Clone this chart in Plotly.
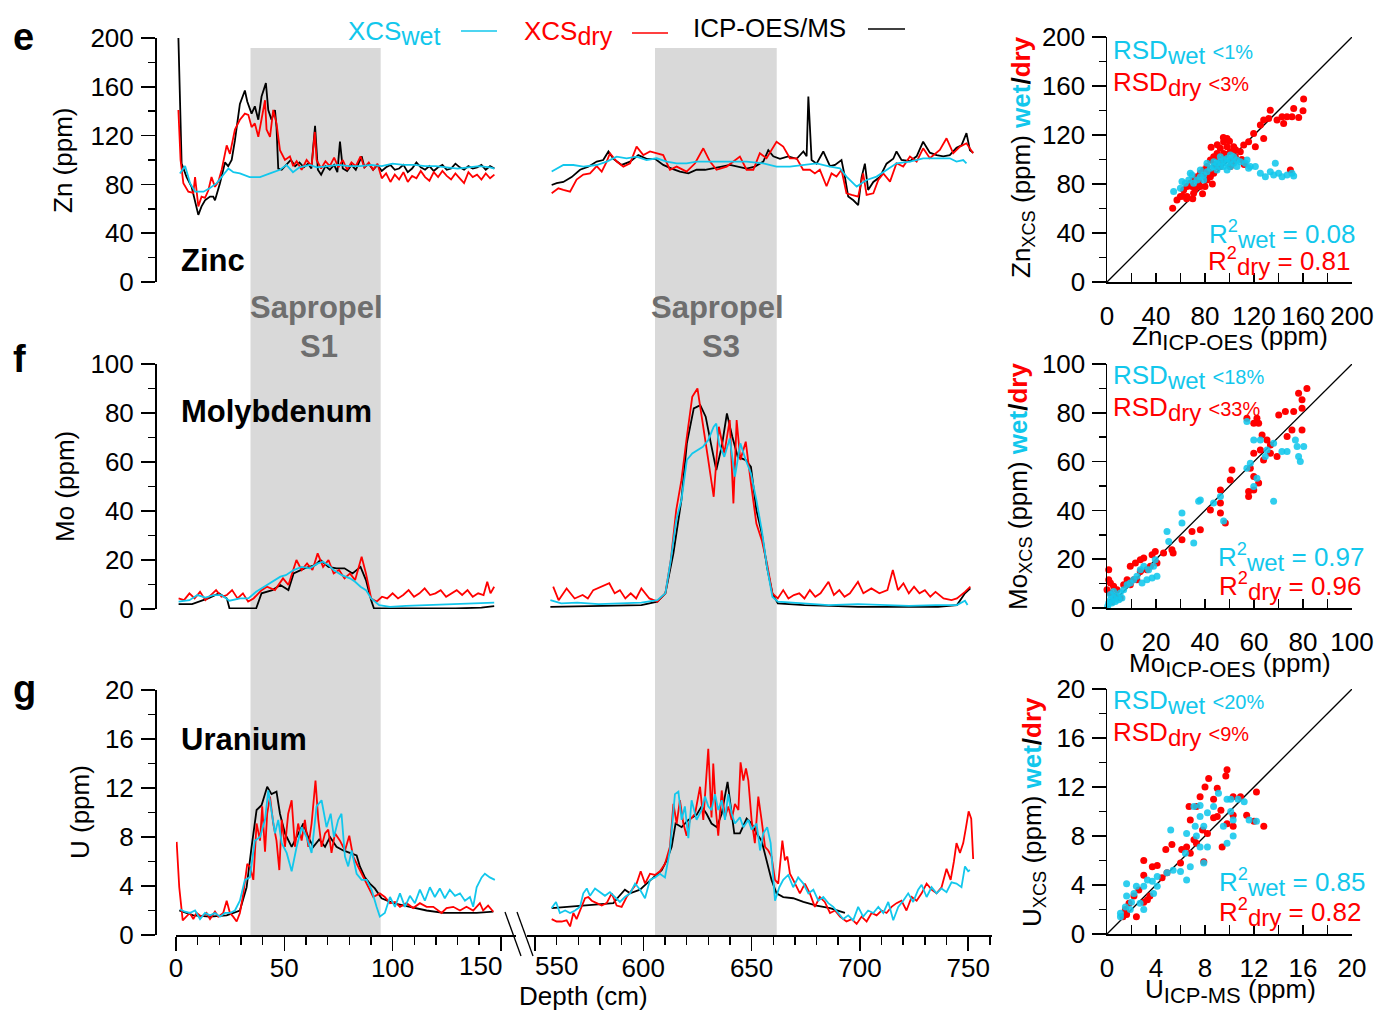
import plotly.graph_objects as go

# ======================= DATA =======================
# Depth in cm; concentrations in ppm.  Values < 300 cm belong to the upper core
# segment (0-150 cm), values > 300 cm to the lower one (550-750 cm).

# ---------- Zinc ----------
zn_icp_depth = [1.1, 2.6, 4.9, 7.2, 10.3, 11.8, 13.4, 15.7, 17.2, 18.0, 20.3, 22.6, 24.1, 25.7, 27.2,
                29.5, 31.8, 32.9, 34.9, 36.4, 38.0, 39.5, 41.5, 42.6, 44.1, 45.7, 46.4, 47.2, 48.8, 51,
                53, 55, 57, 59, 61, 62.5, 64.2, 65.5, 67, 69, 71, 73, 74.5, 75.7, 77, 79, 81, 83, 85.7, 87,
                89, 91, 93, 95, 97, 99, 101, 103, 105, 107, 109, 111, 113, 115, 117, 119, 121, 123, 125, 127,
                129, 131, 133, 135, 137, 139, 141, 143, 145, 147,
                557.7, 560.0, 563.1, 566.9, 570.8, 574.6, 578.5, 581.5, 583.9, 586.2, 590.0, 593.9, 597.7,
                601.5, 605.4, 609.2, 613.1, 616.9, 620.8, 624.6, 628.5, 632.3, 636.2, 640.0, 643.9, 647.7,
                651.5, 655.4, 657.7, 660.0, 663.1, 666.9, 670.8, 673.9, 675.4, 676.2, 677.7, 680.0, 683.1,
                686.2, 688.5, 691.5, 693.1, 694.6, 697.0, 699.2, 700.8, 702.3, 703.8, 706.2, 709.2, 712.3,
                715.4, 716.9, 719.2, 723.1, 726.2, 729.2, 732.3, 735.4, 738.5, 741.5, 744.6, 746.9, 749.2,
                750.8, 752.3]
zn_icp = [201, 97, 86, 78, 55, 62, 67, 70, 70, 67, 81, 98, 95, 100, 116,
          146, 157, 148, 138, 144, 133, 152, 163, 141, 133, 141, 127, 93, 92, 96,
          100, 95, 98, 94, 97, 93, 128, 92, 88, 95, 92, 96, 90, 115, 93, 91, 96, 92, 103, 94,
          97, 92, 96, 91, 94, 96, 92, 93, 96, 90, 93, 98, 94, 92, 95, 91, 94, 96, 92, 93,
          97, 94, 92, 95, 93, 94, 96, 92, 95, 93,
          79.5, 81, 82, 86, 92, 94.5, 98.7, 100, 107, 101, 96, 98.7, 104,
          101, 101, 96, 93, 90.5, 89, 92, 92, 93, 94.6, 96, 94.6, 93,
          94.6, 98.7, 108, 103, 101, 103, 101, 107, 103, 152, 100, 97, 107,
          95, 96, 100, 86, 70, 67, 63, 86, 97, 75.5, 82, 86, 97,
          101, 107, 100, 99, 103, 115, 106, 104, 103, 104, 110, 112, 122,
          108, 106]
zn_dry_depth = [1.1, 2.1, 3.4, 5.7, 8.0, 8.8, 10.3, 11.8, 13.4, 14.9, 16.4, 18.0, 19.5, 21.1, 23.4,
                24.9, 27.2, 29.5, 31.8, 33.4, 34.9, 36.4, 38.0, 39.5, 41.1, 41.8, 43.4, 44.9, 46.4, 48.0,
                50.3, 52.6, 54.1, 55.7, 58.0, 60.3, 62.6, 64.1, 64.9, 67, 69, 71, 73, 75, 77, 79, 81, 83,
                85.2, 87, 89, 91, 93, 95, 97, 99, 101, 103, 105, 107, 109, 111, 113, 115, 117, 119, 121, 123,
                125, 127, 129, 131, 133, 135, 137, 139, 141, 143, 145, 147,
                557.7, 560.8, 563.1, 566.2, 569.2, 572.3, 575.4, 578.5, 580.8, 583.1, 584.6, 587.7, 590.8,
                593.9, 596.9, 600.0, 603.1, 606.2, 609.2, 612.3, 615.4, 620.0, 623.9, 627.7, 630.8, 633.8,
                638.5, 644.6, 647.7, 650.8, 653.8, 656.9, 661.5, 664.6, 667.7, 670.8, 673.8, 676.9, 679.2,
                681.5, 684.6, 686.9, 689.2, 691.5, 693.8, 696.2, 699.2, 701.5, 703.1, 706.2, 708.5, 710.8,
                713.9, 716.9, 720.0, 723.1, 726.2, 729.2, 732.3, 736.9, 740.0, 743.1, 746.2, 749.2, 752.3]
zn_dry = [141, 100, 81, 74, 73, 86, 62, 70, 69, 75, 86, 78, 82, 92, 112,
          105, 125, 133, 138, 137, 127, 130, 119, 133, 149, 125, 119, 141, 130, 108,
          100, 103, 95, 99, 92, 100, 95, 123, 100, 93, 99, 95, 102, 94, 100, 92, 98, 95,
          103, 94, 98, 92, 97, 85, 89, 82, 88, 84, 90, 82, 87, 85, 91, 86, 83, 90, 86, 91,
          87, 84, 89, 85, 81, 90, 86, 88, 84, 89, 85, 88,
          72.7, 76.8, 75.5, 74, 84, 88, 89, 95, 90.5, 98.7, 105.5, 98.7, 94.6,
          97.3, 111, 104, 107, 105.5, 104, 92, 94.6, 90.5, 97.3, 109.6, 98.7, 92,
          94.6, 102.8, 92, 92, 105.5, 101.4, 115, 111, 101.4, 101.4, 92, 92, 89,
          92, 78.5, 89, 86.4, 92, 72.7, 71.4, 70, 89, 71.4, 72.7, 83.6, 89,
          82.3, 97.3, 94.6, 102.8, 98.7, 109.6, 101.4, 108.2, 117.8, 105.5, 111, 113.7, 105.5]
zn_wet_depth = [1.8, 4.2, 6.5, 8.8, 12.7, 15.7, 18.8, 21.1, 24.2, 26.5, 29.5, 34, 38.8, 43.4, 48,
                51, 54, 57, 61.8, 65, 70, 75, 80, 85, 90, 95, 100, 105, 110, 115, 120, 125, 130, 135,
                140, 145, 147,
                557.7, 563.1, 567.7, 572.3, 578.5, 583.1, 587.7, 592.3, 596.9, 601.5, 606.2, 610.8, 615.4,
                620, 624.6, 632.3, 640, 647.7, 655.4, 661.5, 667.7, 673.8, 680, 686.2, 690.8, 693.8, 698.5,
                703.1, 707.7, 712.3, 716.9, 723.1, 729.2, 735.4, 741.5, 744.6, 747.7, 749.2]
zn_wet = [89, 95, 81, 74, 74, 77, 81, 86, 93, 90, 89, 86, 86, 89, 92,
          96, 90, 94, 96, 94, 95, 96, 95, 95, 96, 95, 97, 96, 96, 95, 95, 94, 93, 94,
          95, 94, 93,
          90.5, 95.9, 95.9, 94.6, 95.9, 98.7, 102.8, 101.4, 102.8, 100, 101.4, 98.7, 97.3,
          97.3, 98.7, 98.7, 98.7, 98.7, 97.3, 94.6, 94.6, 95.9, 97.3, 94.6, 93.2, 86.4, 78.2,
          83.6, 86.4, 91.9, 97.3, 98.7, 101.4, 101.4, 101.4, 98.7, 100, 97.3]

# ---------- Molybdenum ----------
mo_icp_depth = [1.2, 7.4, 14.8, 19.8, 23.5, 24.7, 29.6, 37.0, 39.5, 44.5, 48.2, 51.9, 54.3, 59.3, 64.2,
                66.7, 70.4, 74.1, 77.8, 81.5, 85.2, 87.7, 90.1, 91.4, 104, 116, 129, 141, 146.9,
                557.1, 574.4, 586.8, 599.1, 606.5, 610.2, 613.9, 617.6, 620.1, 623.3, 626.3, 628.8, 631.2,
                633.7, 636.2, 638.6, 641.1, 643.6, 647.3, 649.7, 652.2, 654.7, 657.1, 659.6, 662.1, 674.4,
                686.8, 699.1, 711.5, 723.8, 736.1, 744.8, 748.5, 751.0]
mo_icp = [2.0, 2.0, 4.3, 6.4, 4.3, 0.2, 0.2, 0.2, 6.4, 7.7, 9.8, 7.7, 14.5, 16.6, 17.9,
          20, 17.2, 16.6, 16.6, 14.5, 17.2, 11.8, 3.6, 0.2, 0.2, 0.2, 0.2, 0.6, 1.2,
          0.9, 1.2, 1.2, 1.6, 3.0, 6.4, 22.7, 44.5, 67.6, 81.9, 83.2, 78.5, 67.6,
          56.7, 66.2, 79.8, 70.3, 62.1, 60.8, 58.0, 40.4, 30.9, 17.2, 6.4, 2.3, 1.6,
          1.3, 0.9, 0.9, 0.9, 0.9, 1.6, 6.4, 8.4]
mo_dry_depth = [1.2, 3.7, 6.2, 8.6, 11.1, 13.6, 16.1, 18.5, 21.0, 23.5, 25.9, 28.4, 30.9, 33.3, 35.8,
                39.5, 42.0, 45.7, 49.4, 51.9, 55.6, 58.0, 60.5, 63.0, 65.4, 67.9, 70.4, 72.8, 75.3, 77.8,
                80.3, 82.7, 85.7, 87.7, 90.1, 92.6, 95.1, 97.5, 100.0, 102.5, 104.9, 107.4, 109.9, 112.4,
                114.8, 117.3, 119.8, 122.2, 124.7, 127.2, 129.6, 132.1, 134.6, 137.0, 139.5, 142.0, 143.7,
                145.2, 146.9,
                558.4, 560.9, 564.6, 568.3, 572.0, 574.4, 576.9, 580.6, 584.3, 586.8, 589.2, 591.7, 594.2,
                596.7, 599.1, 602.8, 606.5, 610.2, 612.7, 615.2, 617.6, 620.1, 622.6, 625.0, 627.5, 630.0,
                632.5, 634.9, 637.4, 639.9, 641.6, 643.1, 644.8, 647.3, 649.7, 652.2, 654.7, 657.1, 659.6,
                662.1, 664.6, 667.0, 669.5, 672.0, 674.4, 676.9, 679.4, 681.8, 685.5, 688.0, 690.5, 692.9,
                695.4, 699.1, 701.6, 705.3, 709.0, 712.7, 715.2, 717.6, 720.1, 722.6, 725.0, 727.5, 730.0,
                732.5, 734.9, 738.6, 742.3, 744.8, 748.5, 751.0]
mo_dry = [4.3, 3.6, 6.4, 4.3, 7.0, 3.6, 5.7, 7.7, 5.0, 5.7, 7.7, 4.3, 6.4, 3.0, 4.3,
          7.7, 9.1, 7.7, 12.5, 9.8, 20.0, 15.9, 18.6, 15.9, 22.7, 17.2, 20.0, 14.5, 15.9, 12.5,
          14.5, 11.8, 21.3, 14.5, 4.3, 3.0, 5.0, 4.3, 6.4, 4.3, 5.7, 7.7, 5.0, 6.4,
          8.4, 5.7, 6.4, 7.7, 5.0, 6.4, 7.7, 5.7, 7.7, 5.0, 6.4, 5.7, 11.1,
          6.4, 9.1,
          9.1, 3.6, 8.4, 4.3, 5.7, 4.3, 7.7, 9.1, 10.5, 6.4, 7.7, 4.3, 6.4,
          4.3, 8.4, 4.3, 3.0, 6.4, 20.0, 40.4, 52.6, 70.3, 86.6, 90.0, 74.4, 60.8,
          45.8, 74.4, 63.5, 77.1, 43.1, 77.1, 60.8, 68.3, 51.3, 34.9, 28.1, 18.6, 6.4,
          4.3, 7.7, 4.3, 5.7, 6.4, 4.3, 7.7, 5.0, 6.4, 11.1, 5.7, 7.7, 5.0,
          6.4, 11.1, 6.4, 8.4, 6.4, 7.7, 15.9, 7.7, 10.5, 6.4, 9.1, 6.4, 7.7,
          5.0, 7.0, 4.3, 3.6, 4.3, 7.0, 9.1]
mo_wet_depth = [1.2, 6.2, 9.9, 13.6, 17.3, 21.0, 24.7, 29.6, 33.4, 37.0, 40.7, 44.5, 48.2, 50.7, 54.3,
                58.0, 61.7, 65.5, 67.9, 70.4, 72.8, 76.5, 80.3, 82.7, 85.2, 87.7, 90.1, 93.8, 98.8, 106.2,
                116.0, 128.4, 140.7, 146.9,
                557.1, 562.1, 569.5, 579.4, 589.2, 599.1, 606.5, 610.2, 612.7, 615.2, 617.6, 620.1, 622.6,
                625.0, 627.5, 630.0, 632.5, 633.7, 634.9, 637.4, 639.9, 642.3, 644.8, 647.3, 649.7, 652.2,
                654.7, 657.1, 659.6, 662.1, 674.4, 685.5, 699.1, 712.7, 722.6, 734.9, 744.8, 748.5, 749.7]
mo_wet = [3.0, 3.6, 5.7, 4.7, 5.7, 5.7, 3.4, 4.3, 4.3, 7.0, 9.1, 11.1, 13.2, 13.8, 15.9,
          17.2, 16.6, 18.6, 19.3, 17.9, 15.9, 13.8, 12.5, 11.1, 9.1, 7.7, 4.3, 1.6, 0.9, 1.3,
          1.6, 2.0, 2.3, 2.6,
          3.6, 2.3, 2.6, 2.0, 2.3, 2.6, 3.6, 6.4, 20.0, 36.3, 44.5, 60.8, 63.5,
          64.9, 66.2, 69.0, 74.4, 75.7, 67.6, 62.1, 69.6, 54.0, 67.6, 60.8, 55.3, 44.5,
          32.2, 17.2, 5.0, 3.0, 2.3, 1.6, 2.0, 1.6, 1.3, 1.6, 1.6, 3.4, 1.6]

# ---------- Uranium ----------
u_icp_depth = [1.5, 8.0, 15.7, 23.4, 29.5, 32.6, 34.9, 37.2, 39.5, 42.1, 44.1, 46.4, 48.0, 50.3, 53.4,
               55.7, 58.8, 61.0, 63.4, 66.1, 68.8, 71.1, 74.1, 77.2, 80.3, 83.4, 84.9, 87.2, 89.5, 91.8,
               94.9, 100.3, 108.0, 115.7, 123.4, 131.1, 138.8, 146.5,
               557.7, 570.8, 586.2, 588.5, 591.5, 593.9, 598.5, 601.5, 604.6, 608.5, 610.8, 613.1, 614.9,
               617.7, 620.8, 624.6, 626.9, 629.2, 631.5, 633.9, 636.2, 637.7, 638.9, 640.0, 642.0, 644.6,
               647.7, 650.0, 652.3, 654.6, 656.9, 659.2, 661.5, 664.6, 669.2, 673.9, 680.0, 686.2, 693.1]
u_icp = [2.0, 1.6, 1.5, 1.6, 2.0, 3.9, 7.2, 10.2, 10.6, 12.1, 11.5, 11.7, 9.9, 8.3, 7.2,
         8.0, 9.1, 8.0, 7.2, 7.8, 7.2, 8.0, 7.2, 6.9, 6.7, 6.5, 5.6, 4.7, 4.2, 3.8,
         3.0, 2.6, 2.3, 2.0, 1.8, 1.8, 1.8, 1.9,
         2.2, 2.4, 2.6, 3.1, 3.7, 3.4, 3.7, 4.2, 4.7, 5.3, 6.1, 7.2, 9.1,
         8.8, 9.4, 9.8, 10.5, 9.9, 9.1, 8.8, 9.9, 11.3, 12.5, 11.0, 8.3, 8.3,
         9.5, 9.1, 8.3, 7.7, 6.1, 4.5, 3.4, 3.1, 3.0, 2.7, 2.4, 2.2, 1.8]
u_dry_depth = [0.3, 1.5, 3.1, 4.9, 6.4, 8.0, 9.5, 11.8, 14.1, 15.7, 18.0, 19.5, 21.8, 23.4, 24.9,
               26.4, 28.0, 29.5, 31.1, 32.9, 34.1, 35.7, 37.2, 38.8, 39.8, 41.1, 42.1, 43.4, 44.9, 46.4,
               47.7, 48.8, 50.3, 51.8, 53.4, 54.9, 56.4, 58.0, 59.5, 61.1, 62.6, 64.4, 65.7, 67.2, 68.8,
               70.3, 71.8, 73.4, 75.7, 78.0, 80.0, 81.8, 84.1, 86.4, 88.8, 91.1, 94.1, 96.4, 98.8, 101.1,
               103.4, 106.4, 109.5, 112.6, 115.7, 118.8, 122.6, 124.9, 128.0, 131.1, 134.1, 137.2, 140.3,
               141.8, 144.1, 146.5,
               557.7, 560.0, 562.3, 564.6, 566.2, 567.7, 569.2, 571.5, 573.1, 574.6,
               576.2, 578.5, 580.8, 583.1, 585.4, 587.7, 590.0, 592.3, 594.6, 596.9,
               598.8, 600.8, 603.1, 605.4, 607.7, 610.0, 612.3, 613.9, 615.4, 616.9,
               618.5, 620.0, 621.5, 623.9, 626.2, 627.7, 630.0, 631.5, 632.3, 633.5,
               634.6, 636.2, 637.7, 639.2, 640.8, 642.3, 643.9, 644.9, 646.2, 647.4,
               648.5, 650.0, 651.5, 653.1, 654.6, 656.2, 657.7, 659.2, 660.8, 662.3,
               664.2, 665.4, 666.5, 667.7, 669.2, 670.8, 672.3, 674.6, 676.9, 679.2,
               681.5, 683.8, 686.2, 688.5, 690.8, 693.8, 696.2, 698.5, 700.8, 703.1,
               705.4, 707.7, 710.0, 712.3, 714.6, 716.9, 719.2, 721.5, 723.9, 726.2,
               728.5, 730.8, 733.1, 735.4, 737.7, 740.0, 741.9, 743.4, 744.6, 746.2,
               747.7, 748.9, 750.2, 751.4, 752.3]
u_dry = [7.6, 3.9, 1.2, 1.5, 1.8, 1.3, 1.8, 1.5, 1.8, 1.3, 1.9, 1.5, 1.8, 2.8, 1.8,
         1.5, 1.1, 1.8, 3.4, 5.8, 5.6, 4.5, 9.1, 7.7, 10.5, 6.8, 9.9, 11.3, 9.1, 7.7,
         5.3, 9.4, 7.2, 9.9, 11.0, 7.2, 9.1, 7.7, 9.4, 7.2, 9.1, 12.6, 9.4, 7.2, 8.3,
         8.6, 6.7, 8.3, 7.7, 6.9, 8.1, 6.4, 5.6, 4.7, 3.9, 3.1, 3.4, 3.1, 2.6, 2.7,
         2.3, 2.6, 2.2, 2.6, 2.3, 2.3, 1.8, 2.2, 2.3, 2.0, 2.3, 2.0, 2.6,
         2.0, 2.4, 1.9,
         1.3, 1.1, 1.1, 1.2, 0.7, 1.8, 1.3, 2.3, 3.0, 3.1,
         2.8, 2.6, 2.4, 2.6, 3.4, 2.4, 2.3, 3.1, 3.7, 4.2,
         5.2, 4.2, 5.0, 4.9, 5.2, 5.8, 7.2, 10.7, 9.1, 11.0,
         9.1, 8.1, 9.4, 9.9, 12.1, 9.4, 15.2, 9.6, 14.0, 10.2,
         8.1, 11.8, 9.6, 10.5, 9.4, 10.7, 10.2, 14.1, 12.6, 13.6,
         12.6, 9.4, 7.5, 11.3, 9.4, 7.2, 6.9, 6.4, 4.5, 4.2,
         7.7, 6.1, 6.4, 5.0, 4.5, 3.9, 3.4, 4.2, 3.4, 2.3,
         3.1, 2.7, 1.8, 2.0, 1.5, 1.1, 1.3, 0.9, 1.5, 1.1,
         1.8, 1.6, 2.0, 1.8, 2.3, 2.6, 2.8, 2.0, 3.1, 2.8,
         3.4, 4.2, 3.7, 3.4, 3.9, 5.4, 4.5, 6.0, 7.5, 6.7,
         7.5, 8.7, 10.1, 9.5, 6.2]
u_wet_depth = [1.8, 4.1, 6.4, 8.8, 11.1, 13.4, 15.7, 18.0, 20.3, 22.6,
               24.9, 27.2, 29.5, 31.8, 34.1, 36.4, 38.8, 41.1, 42.6, 44.1,
               45.7, 47.2, 48.8, 51.1, 53.4, 55.7, 58.0, 60.3, 62.6, 64.9,
               67.2, 69.5, 71.4, 72.9, 74.9, 76.4, 78.0, 79.5, 81.1, 83.4,
               85.7, 88.0, 90.3, 92.6, 94.1, 96.4, 98.8, 101.1, 103.4, 105.7,
               108.0, 110.3, 112.6, 114.9, 117.2, 119.5, 121.8, 124.1, 126.4, 128.8,
               131.1, 133.4, 135.7, 137.2, 138.8, 141.1, 142.6, 144.9, 147.2,
               557.7, 559.7, 561.5, 563.9, 566.2, 568.5, 570.8, 572.3, 573.9, 575.4,
               577.7, 580.0, 582.3, 584.6, 586.9, 589.2, 591.5, 593.9, 596.2, 598.5,
               600.8, 603.1, 605.4, 607.7, 610.0, 612.3, 614.6, 616.2, 617.7, 619.2,
               620.8, 622.3, 624.6, 626.9, 628.5, 630.0, 631.5, 633.1, 634.6, 636.2,
               637.7, 639.2, 640.8, 642.3, 644.6, 646.2, 648.5, 650.0, 652.3, 653.9,
               655.4, 657.2, 658.8, 660.0, 660.8, 662.8, 664.6, 666.9, 669.2, 671.5,
               673.9, 676.2, 678.5, 680.8, 683.1, 685.4, 687.7, 690.0, 692.3, 694.6,
               696.9, 699.2, 701.5, 703.8, 706.2, 708.5, 710.8, 713.1, 715.4, 717.7,
               720.0, 722.3, 724.6, 726.9, 728.5, 730.8, 733.1, 735.4, 737.7, 740.0,
               742.3, 744.6, 746.9, 748.5, 750.0, 750.8]
u_wet = [2.1, 1.9, 1.8, 2.0, 1.3, 1.8, 1.6, 1.8, 1.5, 1.8,
         1.8, 2.0, 2.8, 4.5, 4.7, 7.7, 8.0, 9.4, 11.8, 9.9,
         8.3, 9.4, 7.5, 6.7, 5.2, 7.2, 8.8, 8.0, 6.7, 10.5,
         11.0, 8.8, 9.9, 8.0, 9.4, 9.9, 6.4, 5.6, 6.9, 5.0,
         4.5, 4.5, 3.7, 2.3, 1.5, 1.8, 3.1, 2.3, 3.4, 2.3,
         3.2, 2.6, 3.7, 2.8, 3.9, 3.1, 3.8, 3.0, 3.7, 3.2,
         3.4, 2.8, 3.1, 2.3, 3.9, 4.7, 5.0, 4.7, 4.5,
         2.2, 2.7, 1.8, 2.0, 1.8, 2.0, 2.3, 3.4, 3.8, 3.2,
         3.8, 3.5, 3.2, 3.5, 3.1, 2.7, 3.1, 3.4, 4.2, 3.7,
         3.0, 4.5, 4.7, 5.0, 4.7, 6.9, 11.5, 11.7, 9.4, 10.5,
         7.9, 11.0, 9.4, 10.2, 11.3, 10.5, 10.2, 11.5, 10.2, 11.0,
         9.4, 11.5, 9.9, 9.1, 9.6, 8.8, 9.4, 8.6, 9.1, 6.9,
         8.3, 8.8, 7.5, 4.5, 2.8, 3.9, 4.5, 4.9, 3.9, 4.7,
         4.2, 3.4, 3.7, 2.8, 3.1, 2.6, 2.3, 1.8, 1.3, 1.6,
         1.2, 2.3, 1.5, 2.0, 1.8, 2.3, 1.8, 2.7, 1.2, 2.3,
         2.8, 3.4, 2.7, 3.7, 4.1, 3.1, 3.9, 3.4, 3.8, 3.5,
         4.3, 4.2, 3.9, 5.6, 5.2, 5.3]

# ---------- Cross-plots (ICP value, XCS value) ----------
zn_sc_dry_icp = [160.5, 160, 152.4, 156.5, 151, 146.9, 142.9, 144.2, 138.8, 133.3, 132, 127.9, 125.2, 119.7,
                 127.9, 121.1, 115.6, 111.6, 108.8, 103.4, 100.7, 98, 95.2, 92.5, 89.8, 87.1, 84.4, 81.6,
                 78.9, 76.2, 73.5, 70.7, 68, 65.3, 62.6, 59.9, 57.1, 53.6, 103.4, 100.7, 95.2, 89.8, 87.1,
                 81.6, 76.2, 70.7, 65.3, 95.2, 98, 92.5, 104.8, 84.4, 80.3, 74.8, 69.4, 149.7, 85, 90, 95,
                 100, 105, 92, 97, 102, 88, 83, 110, 112, 86, 80, 75, 78, 65, 62, 70, 72]
zn_sc_dry_xcs = [149.3, 139.8, 141.7, 134.3, 134.9, 134.9, 134.9, 129.4, 132.2, 140.3, 133.5, 132.2, 128.1,
                 121.3, 117.2, 110.4, 114.5, 111.8, 106.4, 110.4, 106.4, 117.2, 114.5, 109.1, 105, 102.3,
                 99.6, 94.2, 91.5, 88.7, 86, 83.3, 80.6, 77.9, 75.2, 69.7, 67, 60.2, 99.6, 94.2, 99.6, 94.2,
                 88.7, 83.3, 77.9, 72.5, 69.7, 105, 110.4, 94.2, 102.3, 86, 86, 80.6, 77.9, 91.5, 110, 112,
                 118, 115, 108, 100, 104, 97, 96, 90, 100, 96, 80, 78, 82, 72, 68, 70, 68, 76]
zn_sc_wet_icp = [54.4, 59.9, 63.9, 61.2, 66.7, 69.4, 70.7, 73.5, 76.2, 78.9, 81.6, 84.4, 87.1, 89.8, 92.5,
                 95.2, 98, 100.7, 103.4, 106.1, 108.8, 112.9, 117, 121.1, 125.2, 129.3, 133.3, 137.4, 140.1,
                 142.9, 147, 151, 152.4, 89.8, 92.5, 95.2, 98, 100.7, 87.1, 81.6, 76.2, 68, 103.4, 106.1,
                 114.3, 78.9, 92.5, 98, 100.7, 115.6, 136]
zn_sc_wet_xcs = [73.8, 76.5, 80.6, 82, 83.3, 87.4, 80.6, 83.3, 86, 87.4, 90.1, 92.8, 94.2, 96.9, 98.2,
                 99.6, 100.9, 99.6, 96.9, 99.6, 98.2, 96.9, 94.2, 94.2, 88.7, 86, 90.1, 96.9, 88.7,
                 86, 87.4, 88.7, 86.6, 91.5, 94.2, 94.2, 96.9, 94.2, 98.2, 96.9, 91.5, 88.7, 102.3, 94.2,
                 99.6, 83.3, 102.3, 91.5, 103.7, 92.8, 87.4]

mo_sc_dry_icp = [81.6, 78.2, 79.6, 79.6, 76.2, 72.8, 75.5, 73.5, 70.1, 79.6, 57.1, 59.9, 63.3, 65.3, 66.7,
                 62.6, 59.9, 66.7, 69.4, 63.9, 58.5, 59.9, 61.9, 59.9, 57.8, 57.8, 51, 50.3, 46.3, 46.3,
                 42.2, 46.3, 48.3, 38.1, 34.7, 30.6, 26.5, 23.1, 19.7, 18.4, 15, 13.6, 11.6, 9.5, 13.6,
                 16.3, 10.9, 8.2, 6.8, 4.1, 1.4, 0.7, 0.7, 2.7, 1.4, 3.4, 0, 2, 5.4, 9.5,
                 12.2, 17.7, 20.4, 27, 61.2, 61.9]
mo_sc_dry_xcs = [90, 88, 85.3, 81.9, 80.5, 80.5, 73, 70.3, 79.1, 73, 77.8, 75.7, 70.9, 68.9, 66.8,
                 64.8, 63.4, 63.4, 62.1, 60.7, 57.3, 53.9, 51.2, 48.4, 47.7, 45.7, 56.6, 52.5, 48.4, 43,
                 40.2, 38.9, 34.8, 32.1, 31.4, 28, 23.9, 22.5, 23.2, 21.8, 20.5, 19.8, 18.4, 17.1, 15,
                 15.7, 11.6, 11.6, 9.5, 7.5, 10.2, 15.7, 11.6, 8.9, 6.1, 4.8, 7.5, 2.7, 4.1, 9.5,
                 11.6, 17.1, 18.4, 22.5, 77.8, 75.7]
mo_sc_wet_icp = [76.9, 77.6, 80.3, 78.2, 78.9, 73.5, 71.4, 68, 65.3, 64.6, 62.6, 59.9, 57.1, 58.5, 57.1,
                 59.9, 61.2, 68, 46.3, 43.5, 38.1, 30.6, 30.6, 24.5, 25.2, 35.4, 37.4, 47.6, 19.7, 19,
                 17, 15, 13.6, 12.2, 10.9, 9.5, 8.2, 6.8, 5.4, 4.1, 2.7, 1.4, 0.7, 0.3, 2,
                 3.4, 4.8, 6.1, 16.3, 18.4, 20.4, 14.3, 1.4, 2.7]
mo_sc_wet_xcs = [68.9, 66.2, 66.2, 62.1, 60, 64.1, 64.1, 67.5, 64.8, 62.1, 68.9, 68.9, 76.4, 59.3, 57.3,
                 49.8, 53.2, 43.7, 45.7, 43, 44.3, 38.9, 34.8, 31.4, 27.3, 26.6, 43.7, 35.7, 19.8, 17.1,
                 15.7, 17.1, 15.7, 13, 11.6, 10.2, 9.5, 7.5, 6.1, 4.8, 4.1, 3.4, 2, 0.7, 2,
                 2.7, 3.4, 4.1, 11.6, 12.3, 13, 10.2, 5.5, 6.8]

u_sc_dry_icp = [12.2, 11.4, 12, 12.8, 10.3, 9.8, 9.7, 9, 8.3, 8, 9.3, 9, 9.8, 9.4, 10.3,
                7.6, 7.3, 6.7, 6.8, 7.8, 8.2, 7.3, 6.8, 6.5, 7.9, 6.1, 5.3, 4.9, 4.1, 3.7,
                3, 3, 3.5, 3.3, 3, 2.6, 2.2, 1.8, 1.5, 1.3, 1.6, 2.4, 4.5, 4.8, 6,
                10.9, 7.1, 8.7, 8.7, 10.3]
u_sc_dry_xcs = [11.6, 9.7, 9.2, 8.8, 11.2, 13.4, 12.9, 11.9, 12.7, 12, 10.1, 9.6, 9, 7.1, 8.8,
                11.2, 10.4, 10.4, 9.3, 8.5, 8.2, 7.4, 6.6, 7.1, 5.9, 6.9, 7.3, 5, 5.6, 5.5,
                6, 4.8, 3.1, 2.8, 2.6, 3.6, 3.1, 2.5, 2, 1.4, 1.6, 1.4, 4.6, 6.9, 5.8,
                11.2, 7.7, 11, 9.5, 9.7]
u_sc_wet_icp = [12.2, 11.6, 11.2, 10.7, 10.1, 9.8, 10.1, 10.3, 9.5, 10.3, 9.8, 9.1, 8.7, 8.2, 7.6,
                7.1, 7.6, 7.2, 7.9, 8.2, 7.9, 7.6, 7.3, 6.5, 6.4, 6.8, 6, 6.5, 5.2, 4.9,
                4.1, 3.7, 3.3, 3, 2.4, 1.6, 2.2, 1.6, 2, 1.5, 1.1, 1.1, 2.7, 3, 1.9,
                4.1, 3.8, 5.4]
u_sc_wet_xcs = [9.2, 9.3, 10.8, 11, 11, 11, 10, 9.3, 8.8, 8, 7.4, 11.5, 10.4, 9.9, 10.5,
                10.4, 9.6, 8.8, 8.8, 7.1, 5.8, 7.1, 8, 8.2, 6.6, 5.5, 5.1, 4.4, 8.5, 5,
                4.7, 4.3, 4.4, 3.9, 3.9, 4.1, 3.3, 3.1, 2.6, 2.2, 1.7, 1.4, 2.5, 2, 2,
                3.9, 3.3, 5.2]

# Sapropel depth intervals (cm)
sapropel_s1 = (34.4, 94.5)
sapropel_s3 = (605.4, 661.6)

# Text content
rsd_texts = {"zn": ("&lt;1%", "&lt;3%"), "mo": ("&lt;18%", "&lt;33%"), "u": ("&lt;20%", "&lt;9%")}
r2_texts = {"zn": ("0.08", "0.81"), "mo": ("0.97", "0.96"), "u": ("0.85", "0.82")}

# ======================= STYLE / LAYOUT =======================
# The page body margin is removed (post_script), so the figure fills the window.
W, H = 1376, 1011
OFF = 0
FONT = "Liberation Sans, Arial, Helvetica, sans-serif"
CYAN = "#12C7EC"
RED = "#FF0000"
BLACK = "#000000"
SAP_FILL = "#D9D9D9"
SAP_TXT = "#6E6E6E"
BREAK_DEPTH = 300.0
LINE_W = 1.8


def fx(p):
    return (p - OFF) / W


def fy(p):
    return 1 - (p - OFF) / H


def seg(depths, vals, first):
    pairs = [(d, v) for d, v in zip(depths, vals) if (d < BREAK_DEPTH) == first]
    return [p[0] for p in pairs], [p[1] for p in pairs]


def SUB(t, size=None):
    if size is None:
        return f"<sub>{t}</sub>"
    return f"<sub><span style='font-size:{size}px'>{t}</span></sub>"


fig = go.Figure()

series_rows = [
    ("y", [(zn_icp_depth, zn_icp, BLACK), (zn_dry_depth, zn_dry, RED), (zn_wet_depth, zn_wet, CYAN)]),
    ("y2", [(mo_icp_depth, mo_icp, BLACK), (mo_dry_depth, mo_dry, RED), (mo_wet_depth, mo_wet, CYAN)]),
    ("y3", [(u_icp_depth, u_icp, BLACK), (u_dry_depth, u_dry, RED), (u_wet_depth, u_wet, CYAN)]),
]
for yax, series in series_rows:
    for d, v, c in series:
        assert len(d) == len(v), (len(d), len(v), c, yax)
        for first, xax in ((True, "x"), (False, "x2")):
            xs, ys = seg(d, v, first)
            fig.add_trace(go.Scatter(x=xs, y=ys, xaxis=xax, yaxis=yax, mode="lines",
                                     line=dict(color=c, width=LINE_W), showlegend=False,
                                     hoverinfo="skip"))

scatter_sets = [
    ("x3", "y4", 200, zn_sc_dry_icp, zn_sc_dry_xcs, zn_sc_wet_icp, zn_sc_wet_xcs),
    ("x4", "y5", 100, mo_sc_dry_icp, mo_sc_dry_xcs, mo_sc_wet_icp, mo_sc_wet_xcs),
    ("x5", "y6", 20, u_sc_dry_icp, u_sc_dry_xcs, u_sc_wet_icp, u_sc_wet_xcs),
]
for xa, ya, top, xd, yd, xw, yw in scatter_sets:
    assert len(xd) == len(yd) and len(xw) == len(yw)
    fig.add_trace(go.Scatter(x=[0, top], y=[0, top], xaxis=xa, yaxis=ya, mode="lines",
                             line=dict(color=BLACK, width=1.3), showlegend=False, hoverinfo="skip"))
    fig.add_trace(go.Scatter(x=xd, y=yd, xaxis=xa, yaxis=ya, mode="markers",
                             marker=dict(color=RED, size=7, line=dict(width=0)),
                             cliponaxis=False, showlegend=False, hoverinfo="skip"))
    fig.add_trace(go.Scatter(x=xw, y=yw, xaxis=xa, yaxis=ya, mode="markers",
                             marker=dict(color=CYAN, size=7, opacity=0.88, line=dict(width=0)),
                             cliponaxis=False, showlegend=False, hoverinfo="skip"))

tickfont = dict(family=FONT, size=26, color=BLACK)
base = dict(showline=True, linecolor=BLACK, linewidth=1.5, showgrid=False, zeroline=False,
            tickfont=tickfont, tickcolor=BLACK, tickwidth=1.5, fixedrange=True, automargin=False)


def minor(dt, length, where="outside", t0=0):
    return dict(ticks=where, ticklen=length, tickwidth=1.5, tickcolor=BLACK,
                tickmode="linear", tick0=t0, dtick=dt, showgrid=False)


SEG1_RANGE = [0, (516 - 176) / 2.166]
SEG2_RANGE = [550 - (535 - 527) / 2.166, 550 + (992 - 535) / 2.166]

layout_axes = dict(
    xaxis=dict(base, domain=[fx(176), fx(516)], range=SEG1_RANGE, anchor="y3", ticks="outside",
               ticklen=14, tickmode="array", tickvals=[0, 50, 100, 150], ticktext=["0", "50", "100", ""],
               minor=minor(10, 8), ticklabelstandoff=-5),
    xaxis2=dict(base, domain=[fx(527), fx(992)], range=SEG2_RANGE, anchor="y3", ticks="outside",
                ticklen=14, tickmode="array", tickvals=[550, 600, 650, 700, 750],
                ticktext=["", "600", "650", "700", "750"], minor=minor(10, 8, t0=550),
                ticklabelstandoff=-5),
    yaxis=dict(base, domain=[fy(282), fy(38)], range=[0, 200], anchor="free", position=fx(155),
               ticks="outside", ticklen=14, tick0=0, dtick=40, minor=minor(20, 7), ticklabelstandoff=2),
    yaxis2=dict(base, domain=[fy(609), fy(364)], range=[0, 100], anchor="free", position=fx(155),
                ticks="outside", ticklen=14, tick0=0, dtick=20, minor=minor(10, 7), ticklabelstandoff=2),
    yaxis3=dict(base, domain=[fy(935), fy(690)], range=[0, 20], anchor="free", position=fx(155),
                ticks="outside", ticklen=14, tick0=0, dtick=4, minor=minor(2, 7), ticklabelstandoff=2),
)
sc_rows = [("3", "4", 282, 37, 200, 40, 20), ("4", "5", 608, 364, 100, 20, 10), ("5", "6", 934, 689, 20, 4, 2)]
for xn, yn, ybot, ytop, top, dt, mdt in sc_rows:
    layout_axes["xaxis" + xn] = dict(base, domain=[fx(1107), fx(1352)], range=[0, top], anchor="y" + yn,
                                     ticks="inside", ticklen=9, tick0=0, dtick=dt,
                                     minor=minor(mdt, 9, "inside"), ticklabelstandoff=10)
    layout_axes["yaxis" + yn] = dict(base, domain=[fy(ybot), fy(ytop)], range=[0, top], anchor="x" + xn,
                                     ticks="outside", ticklen=14, tick0=0, dtick=dt,
                                     minor=minor(mdt, 7), ticklabelstandoff=1)


def ann(text, x, y, size=26, color=BLACK, xanchor="center", yanchor="middle", angle=0,
        xref="paper", xdata=None):
    return dict(text=text, x=(xdata if xdata is not None else fx(x)), y=fy(y),
                xref=xref, yref="paper", showarrow=False,
                font=dict(family=FONT, size=size, color=color),
                xanchor=xanchor, yanchor=yanchor, textangle=angle)


annotations = [
    # legend
    ann("XCS" + SUB("wet", 25), 346, 33, color=CYAN, xanchor="left"),
    ann("XCS" + SUB("dry", 25), 522, 33, color=RED, xanchor="left"),
    ann("ICP-OES/MS", 691, 28, xanchor="left"),
    # panel letters
    ann("<b>e</b>", 11, 37, size=38, xanchor="left"),
    ann("<b>f</b>", 11, 359, size=38, xanchor="left"),
    ann("<b>g</b>", 11, 689, size=38, xanchor="left"),
    # element names
    ann("<b>Zinc</b>", 179, 261, size=31, xanchor="left"),
    ann("<b>Molybdenum</b>", 179, 412, size=31, xanchor="left"),
    ann("<b>Uranium</b>", 179, 739, size=31, xanchor="left"),
    # sapropel labels
    ann("<b>Sapropel</b>", 316, 307, size=31, color=SAP_TXT),
    ann("<b>S1</b>", 319, 346, size=31, color=SAP_TXT),
    ann("<b>Sapropel</b>", 717, 307, size=31, color=SAP_TXT),
    ann("<b>S3</b>", 721, 346, size=31, color=SAP_TXT),
    # y titles (time series)
    ann("Zn (ppm)", 63, 161, angle=-90),
    ann("Mo (ppm)", 65, 487, angle=-90),
    ann("U (ppm)", 80, 812, angle=-90),
    # x title
    ann("Depth (cm)", 583, 996),
    # shifted tick labels next to the axis break
    ann("150", 0, 966, xref="x", xdata=(480 - 176) / 2.166),
    ann("550", 0, 966, xref="x2", xdata=550 + (556 - 535) / 2.166),
]

wet_dry = (f"<b><span style='color:{CYAN}'>wet</span>/<span style='color:{RED}'>dry</span></b>")
sc_text = [
    ("Zn", "ICP-OES", "zn", 1022, 157, 338, 52, 84, 1358, 234, 1352, 262),
    ("Mo", "ICP-OES", "mo", 1020, 487, 665, 377, 409, 1367, 557, 1363, 586),
    ("U", "ICP-MS", "u", 1033, 812, 991, 702, 734, 1368, 882, 1363, 912),
]
for el, meth, key, ytx, yty, xty, rw, rd, r2wx, r2wy, r2dx, r2dy in sc_text:
    annotations.append(ann(f"{el}{SUB('XCS')} (ppm) {wet_dry}", ytx, yty, angle=-90))
    annotations.append(ann(f"{el}{SUB(meth, 22)} (ppm)", 1230, xty))
    wtxt, dtxt = rsd_texts[key]
    annotations.append(ann(f"RSD{SUB('wet', 24)} <span style='font-size:20px'>{wtxt}</span>", 1111, rw,
                           color=CYAN, xanchor="left"))
    annotations.append(ann(f"RSD{SUB('dry', 24)} <span style='font-size:20px'>{dtxt}</span>", 1111, rd,
                           color=RED, xanchor="left"))
    w2, d2 = r2_texts[key]
    annotations.append(ann(f"R<sup>2</sup>{SUB('wet', 24)} = {w2}", r2wx, r2wy, color=CYAN, xanchor="right"))
    annotations.append(ann(f"R<sup>2</sup>{SUB('dry', 24)} = {d2}", r2dx, r2dy, color=RED, xanchor="right"))

shapes = []
for (a, b), xr in ((sapropel_s1, "x"), (sapropel_s3, "x2")):
    shapes.append(dict(type="rect", xref=xr, yref="paper", x0=a, x1=b, y0=fy(935), y1=fy(48),
                       fillcolor=SAP_FILL, line=dict(width=0), layer="below"))
# legend line samples
for x0, x1, yy, col in ((461, 497, 31, CYAN), (632, 668, 33, RED), (868, 905, 29, BLACK)):
    shapes.append(dict(type="line", xref="paper", yref="paper", x0=fx(x0), x1=fx(x1), y0=fy(yy), y1=fy(yy),
                       line=dict(color=col, width=1.6)))
# axis break marks
for x0 in (505, 517):
    shapes.append(dict(type="line", xref="paper", yref="paper", x0=fx(x0), x1=fx(x0 + 16),
                       y0=fy(912), y1=fy(956), line=dict(color=BLACK, width=1.3)))

fig.update_layout(
    width=W, height=H, autosize=False,
    margin=dict(l=0, r=0, t=0, b=0, pad=0, autoexpand=False),
    paper_bgcolor="white", plot_bgcolor="rgba(0,0,0,0)",
    font=dict(family=FONT, size=26, color=BLACK),
    showlegend=False,
    annotations=annotations,
    shapes=shapes,
    **layout_axes,
)

fig.write_html("out.html", default_width=f"{W}px", default_height=f"{H}px",
               config=dict(displayModeBar=False, staticPlot=True),
               post_script="document.body.style.margin='0px';document.body.style.overflow='hidden';")
